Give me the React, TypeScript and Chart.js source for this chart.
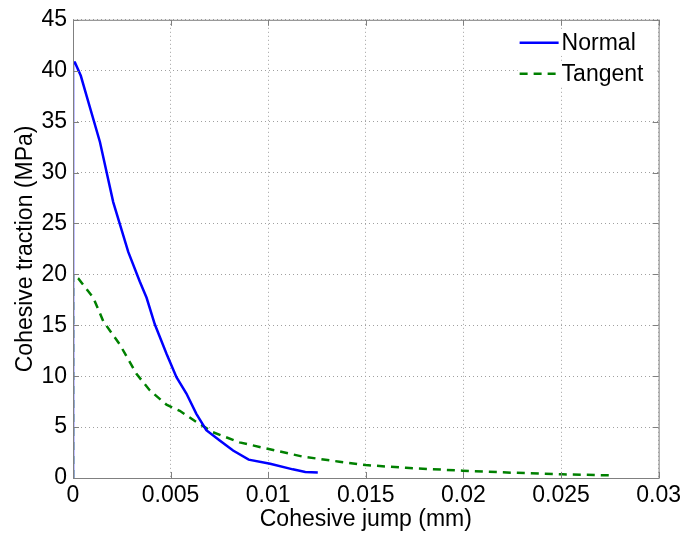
import React, { useEffect, useRef } from "react";
import { Chart, registerables } from "chart.js";

Chart.register(...registerables);

const normalX = [0, 0, 0.0001, 0.0004, 0.0007, 0.00138, 0.00206, 0.00283, 0.00342, 0.00377, 0.00419, 0.00479, 0.0053, 0.00581, 0.00632, 0.00683, 0.0075, 0.0082, 0.009, 0.0101, 0.01126, 0.0119, 0.01254];
const normalY = [0, 40.8, 40.8, 39.5, 37.5, 33, 27.1, 22.2, 19.3, 17.7, 15.1, 12.2, 9.9, 8.3, 6.3, 4.7, 3.7, 2.7, 1.8, 1.4, 0.85, 0.6, 0.55];
const tangentX = [0, 0, 0.00027, 0.00104, 0.00155, 0.0024, 0.00326, 0.00394, 0.00479, 0.00547, 0.00632, 0.00717, 0.00853, 0.0099, 0.01177, 0.01365, 0.015, 0.01705, 0.01995, 0.0225, 0.02506, 0.02753];
const tangentY = [0, 20, 19.6, 17.7, 15.4, 13.1, 10.2, 8.6, 7.2, 6.6, 5.5, 4.5, 3.5, 2.9, 2.1, 1.6, 1.27, 1.0, 0.72, 0.52, 0.36, 0.26];
const seriesLabels = ["Normal", "Tangent"];
const xTitle = "Cohesive jump (mm)";
const yTitle = "Cohesive traction (MPa)";

const FONT = "'Liberation Sans', Arial, sans-serif";

const frame = {
  id: "frame",
  afterDraw(chart: any) {
    const { ctx, chartArea: a, scales } = chart;
    ctx.save();
    ctx.strokeStyle = "#808080";
    ctx.lineWidth = 1;
    ctx.setLineDash([]);
    ctx.strokeRect(a.left + 0.5, a.top + 0.5, a.right - a.left, a.bottom - a.top);
    const tl = 6;
    ctx.beginPath();
    scales.x.ticks.forEach((t: any) => {
      const px = Math.round(scales.x.getPixelForValue(t.value)) + 0.5;
      ctx.moveTo(px, a.bottom);
      ctx.lineTo(px, a.bottom - tl);
      ctx.moveTo(px, a.top);
      ctx.lineTo(px, a.top + tl);
    });
    scales.y.ticks.forEach((t: any) => {
      const py = Math.round(scales.y.getPixelForValue(t.value)) + 0.5;
      ctx.moveTo(a.left, py);
      ctx.lineTo(a.left + tl, py);
      ctx.moveTo(a.right, py);
      ctx.lineTo(a.right - tl, py);
    });
    ctx.stroke();

    // legend
    const ds = chart.data.datasets;
    const lineX0 = a.right - 139;
    const lineX1 = a.right - 100;
    ctx.font = `23px ${FONT}`;
    ctx.textBaseline = "middle";
    ctx.textAlign = "left";
    ds.forEach((d: any, i: number) => {
      const y = a.top + 23 + i * 31;
      ctx.fillStyle = "#ffffff";
      ctx.fillRect(lineX0 - 2, y - 13, 140, 26);
      ctx.strokeStyle = d.borderColor;
      ctx.lineWidth = d.borderWidth;
      ctx.setLineDash(d.borderDash || []);
      ctx.beginPath();
      ctx.moveTo(lineX0, y);
      ctx.lineTo(lineX1, y);
      ctx.stroke();
      ctx.fillStyle = "#000000";
      ctx.fillText(d.label, lineX1 + 3, y + 1);
    });
    ctx.restore();
  },
};

export default function App() {
  const ref = useRef<HTMLCanvasElement>(null);
  useEffect(() => {
    document.body.style.margin = "0";
    const chart = new Chart(ref.current!, {
      type: "line",
      data: {
        datasets: [
          {
            label: seriesLabels[0],
            data: normalX.map((x, i) => ({ x, y: normalY[i] })),
            borderColor: "#0000ff",
            borderWidth: 2.5,
            pointRadius: 0,
            tension: 0,
            fill: false,
          },
          {
            label: seriesLabels[1],
            data: tangentX.map((x, i) => ({ x, y: tangentY[i] })),
            borderColor: "#008000",
            borderWidth: 2.5,
            borderDash: [8, 6],
            pointRadius: 0,
            tension: 0,
            fill: false,
          },
        ],
      },
      options: {
        responsive: false,
        animation: false,
        layout: { padding: { top: 17, right: 25, left: 0, bottom: 0 } },
        plugins: { legend: { display: false }, tooltip: { enabled: false } },
        scales: {
          x: {
            type: "linear",
            min: 0,
            max: 0.03,
            ticks: {
              stepSize: 0.005,
              color: "#000",
              font: { family: FONT, size: 23 },
              padding: 4,
              maxRotation: 0,
              callback: (v: any) => String(parseFloat(Number(v).toFixed(4))),
            },
            grid: { color: "#a0a0a0", drawTicks: false, lineWidth: 1 },
            border: { display: false, dash: [1, 3] },
            title: { display: true, text: xTitle, color: "#000", font: { family: FONT, size: 23 }, padding: { top: 0, bottom: 0 } },
            afterFit: (s: any) => { s.height = 55; },
          },
          y: {
            type: "linear",
            min: 0,
            max: 45,
            ticks: {
              stepSize: 5,
              color: "#000",
              font: { family: FONT, size: 23 },
              padding: 6,
            },
            grid: { color: "#a0a0a0", drawTicks: false, lineWidth: 1 },
            border: { display: false, dash: [1, 3] },
            title: { display: true, text: yTitle, color: "#000", font: { family: FONT, size: 23 }, padding: { top: 12, bottom: 0 } },
            afterFit: (s: any) => { s.width = 73; },
          },
        },
      },
      plugins: [frame],
    });
    return () => chart.destroy();
  }, []);
  return (
    <div style={{ position: "absolute", left: 0, top: 0, width: 685, height: 533, background: "#fff" }}>
      <canvas ref={ref} width={685} height={533} />
    </div>
  );
}
